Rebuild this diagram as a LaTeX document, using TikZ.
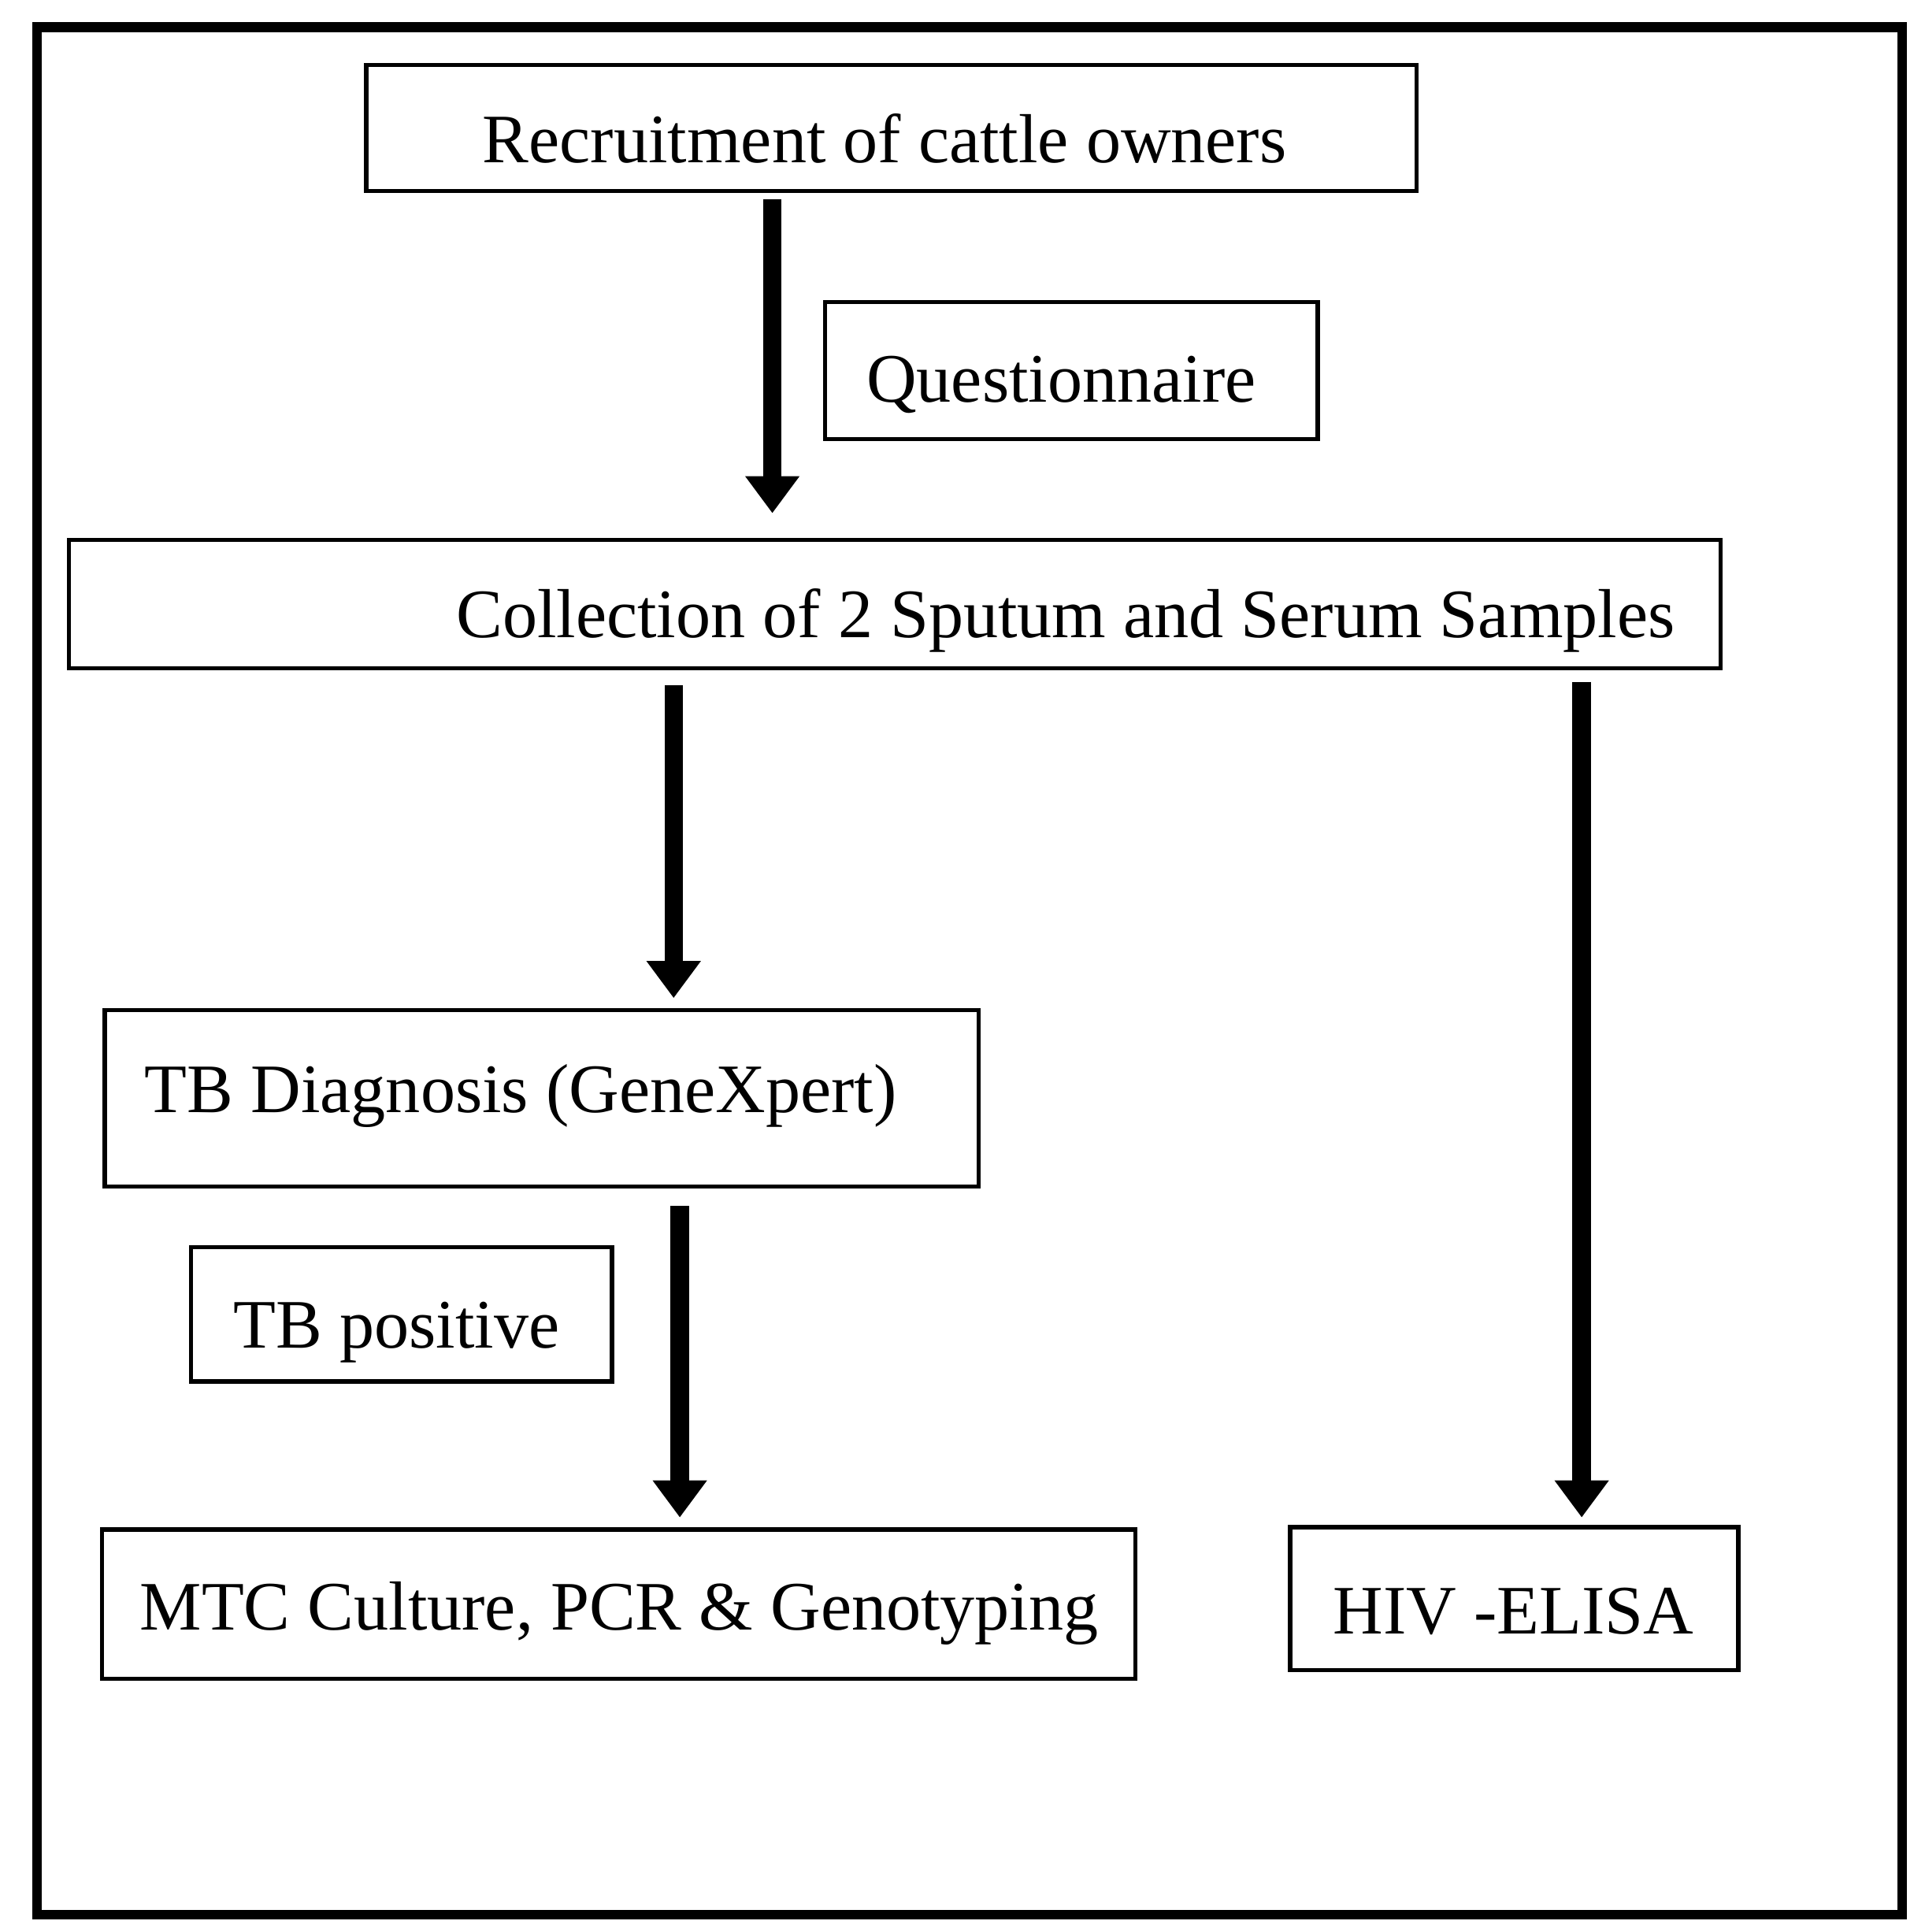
\documentclass[tikz,border=0pt]{standalone}
\usepackage{fontspec}
\setmainfont{Liberation Serif}
\usetikzlibrary{arrows.meta}
\begin{document}
\begin{tikzpicture}[x=0.01cm,y=-0.01cm,
  box/.style={draw,line width=1pt,inner sep=0pt,anchor=north west},
  txt/.style={font=\fontsize{16}{19}\selectfont},
  arr/.style={line width=0.15cm,-{Triangle[width=0.42cm,length=0.3cm]}}]
\useasboundingbox (0,0) rectangle (1560,1566);
\draw[line width=2.2pt] (30,22) rectangle (1542,1552);
\node[box,minimum width=8.51cm,minimum height=1.02cm] (rec) at (295,51) {};
\node[txt] at (717,112) {Recruitment of cattle owners};
\node[box,minimum width=3.99cm,minimum height=1.11cm] (q) at (667,243) {};
\node[txt,anchor=west] at (690,312) {Questionnaire};
\node[box,minimum width=13.38cm,minimum height=1.04cm] (col) at (54,436) {};
\node[txt,anchor=east] at (1370,503) {Collection of 2 Sputum and Serum Samples};
\node[box,minimum width=7.08cm,minimum height=1.43cm] (tb) at (83,817) {};
\node[txt,anchor=west] at (105,888) {TB Diagnosis (GeneXpert)};
\node[box,minimum width=3.41cm,minimum height=1.09cm] (pos) at (153,1009) {};
\node[txt,anchor=west] at (177,1080) {TB positive};
\node[box,minimum width=8.37cm,minimum height=1.21cm] (mtc) at (81,1238) {};
\node[txt,anchor=west] at (101,1308) {MTC Culture, PCR \& Genotyping};
\node[box,minimum width=3.63cm,minimum height=1.16cm] (hiv) at (1044,1236) {};
\node[txt,anchor=west] at (1068,1306) {HIV -ELISA};
\draw[arr,shorten >=0.2cm] ([yshift=-0.05cm]rec.south -| 626,0) -- (col.north -| 626,0);
\draw[arr,shorten >=0.08cm] ([yshift=-0.12cm]col.south -| 546,0) -- (tb.north -| 546,0);
\draw[arr,shorten >=0.08cm] ([yshift=-0.14cm]tb.south -| 551,0) -- (mtc.north -| 551,0);
\draw[arr,shorten >=0.06cm] ([yshift=-0.09cm]col.south -| 1282,0) -- (hiv.north -| 1282,0);
\end{tikzpicture}
\end{document}
